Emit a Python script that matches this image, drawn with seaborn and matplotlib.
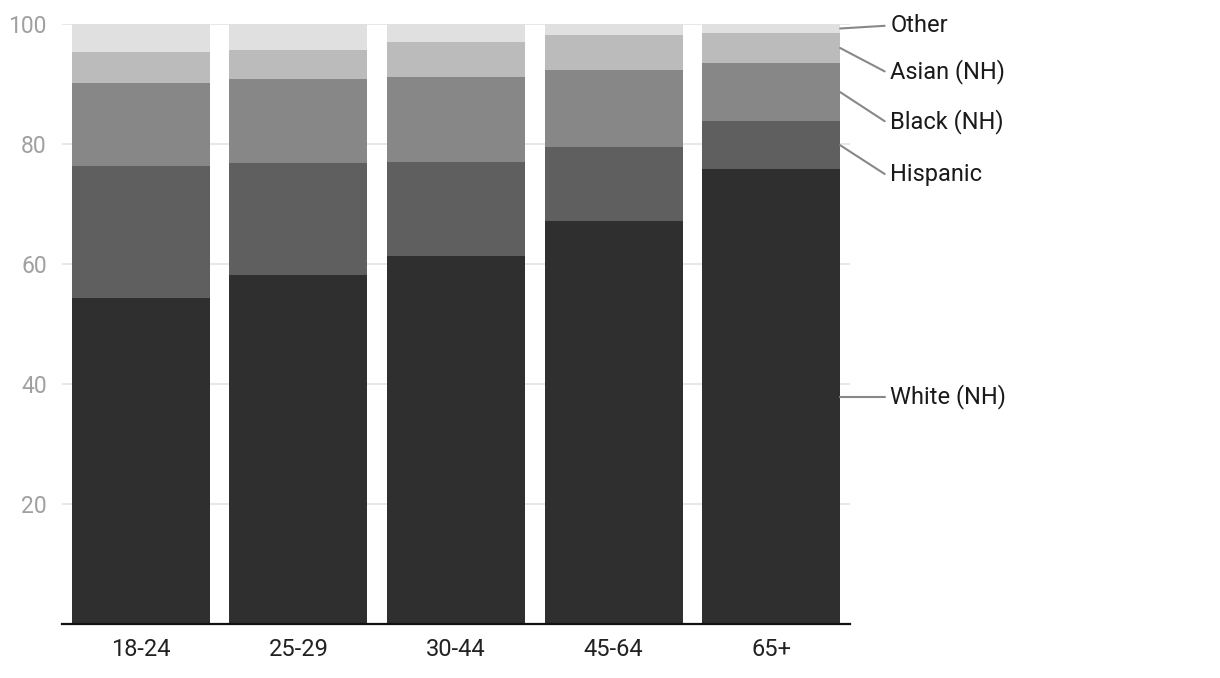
import numpy as np
import pandas as pd
import matplotlib
matplotlib.use("Agg")
import matplotlib.pyplot as plt
import seaborn as sns

# ---- data ----
age_groups = ["18-24", "25-29", "30-44", "45-64", "65+"]
series_names = ["White (NH)", "Hispanic", "Black (NH)", "Asian (NH)", "Other"]
white = [54.3, 58.2, 61.3, 67.2, 75.8]
hispanic = [22.0, 18.6, 15.7, 12.3, 8.0]
black = [13.9, 14.0, 14.2, 12.8, 9.7]
asian = [5.1, 4.9, 5.8, 5.9, 5.0]
other = [4.7, 4.3, 3.0, 1.8, 1.5]
y_ticks = [20, 40, 60, 80, 100]

colors = ["#2f2f2f", "#5f5f5f", "#878787", "#bbbbbb", "#e0e0e0"]
# label placement (layout only): vertical positions of the right-hand labels
label_pos = [None, 75.0, 83.8, 92.1, 99.7]

sns.set_theme(style="white")
plt.rcParams["font.family"] = ["Roboto", "DejaVu Sans"]

fig = plt.figure(figsize=(12.2, 6.78), dpi=100)
ax = fig.add_axes([62 / 1220, 1 - 624 / 678, (850 - 62) / 1220, 600 / 678])

vals = np.array([white, hispanic, black, asian, other])
cum = np.cumsum(vals, axis=0)

ax.set_axisbelow(True)
for yt in y_ticks:
    ax.axhline(yt, color="#e4e4e4", lw=1.2, zorder=0)

# draw cumulative tops from largest to smallest so each layer overlays the next
for i in range(len(series_names) - 1, -1, -1):
    df = pd.DataFrame({"age": age_groups, "value": cum[i]})
    sns.barplot(data=df, x="age", y="value", color=colors[i], saturation=1,
                width=0.875, ax=ax, zorder=2, linewidth=0)

ax.set_xlim(-0.5, 4.5)
ax.set_ylim(0, 100)
ax.set_yticks(y_ticks)
ax.set_xlabel("")
ax.set_ylabel("")
ax.tick_params(axis="y", length=0, pad=11, labelsize=16.5, labelcolor="#a0a0a0")
ax.tick_params(axis="x", length=0, pad=10, labelsize=17, labelcolor="#222222")
for s in ["top", "right", "left"]:
    ax.spines[s].set_visible(False)
ax.spines["bottom"].set_color("#111111")
ax.spines["bottom"].set_linewidth(1.6)

# right-side labels with leader lines from last bar
last = len(age_groups) - 1
bar_right = last + 0.875 / 2
for i, name in enumerate(series_names):
    mid = cum[i, last] - vals[i, last] / 2
    ly = mid if label_pos[i] is None else label_pos[i]
    ax.plot([bar_right, 4.72], [mid, ly], color="#888888", lw=1.5,
            clip_on=False, zorder=3)
    ax.text(4.755, ly, name, ha="left", va="center",
            fontsize=17, color="#1a1a1a", clip_on=False)

fig.savefig("out.png", dpi=100)
